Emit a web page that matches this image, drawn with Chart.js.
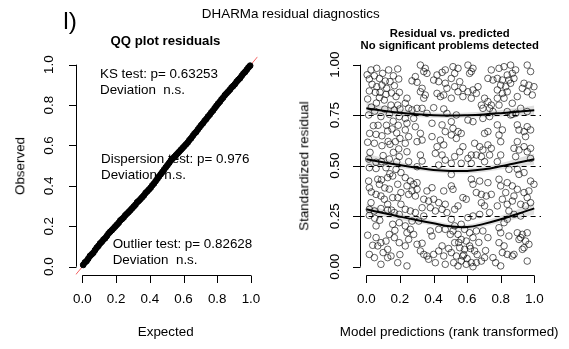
<!DOCTYPE html>
<html>
<head>
<meta charset="utf-8">
<script src="https://cdn.jsdelivr.net/npm/chart.js@4.4.0/dist/chart.umd.min.js"></script>
<style>
  body { margin: 0; background: #fff; }
  #wrap { position: relative; width: 569px; height: 349px; overflow: hidden;
          font-family: "Liberation Sans", Arial, sans-serif; color: #000; }
  canvas { position: absolute; top: 0; }
  .c { position: absolute; white-space: pre; line-height: 1; transform: translate(-50%, -50%); }
  .l { position: absolute; white-space: pre; line-height: 1; transform: translate(0, -50%); font-size: 13.4px; }
  .v { position: absolute; white-space: pre; line-height: 1; transform: translate(-50%, -50%) rotate(-90deg); font-size: 13.4px; }
</style>
</head>
<body>
<div id="wrap">
  <canvas id="qq" width="290" height="349" style="left:0;width:290px;height:349px"></canvas>
  <canvas id="res" width="279" height="349" style="left:290px;width:279px;height:349px"></canvas>

  <div class="c" style="left:70px;top:20.5px;font-size:24.5px">l)</div>
  <div class="c" style="left:290.8px;top:14px;font-size:13.4px">DHARMa residual diagnostics</div>

  <div class="c" style="left:165.5px;top:40.7px;font-size:13.2px;font-weight:bold">QQ plot residuals</div>
  <div class="l" style="left:100px;top:73.8px">KS test: p= 0.63253</div>
  <div class="l" style="left:100px;top:90px">Deviation  n.s.</div>
  <div class="l" style="left:101px;top:158.8px">Dispersion test: p= 0.976</div>
  <div class="l" style="left:101px;top:174.7px">Deviation  n.s.</div>
  <div class="l" style="left:112.7px;top:243.8px">Outlier test: p= 0.82628</div>
  <div class="l" style="left:112.7px;top:259.7px">Deviation  n.s.</div>
  <div class="c" style="left:165.7px;top:331.5px;font-size:13.4px">Expected</div>
  <div class="v" style="left:20px;top:165.7px">Observed</div>

  <div class="c" style="left:449.7px;top:34.3px;font-size:11.3px;font-weight:bold">Residual vs. predicted</div>
  <div class="c" style="left:449.7px;top:46.3px;font-size:11.3px;font-weight:bold">No significant problems detected</div>
  <div class="c" style="left:449.2px;top:331.5px;font-size:13.4px">Model predictions (rank transformed)</div>
  <div class="v" style="left:304px;top:165.7px">Standardized residual</div>
</div>

<script>
// QQ plot: expected uniform quantiles vs observed scaled residuals
const expectedQ = [
  0.005,0.015,0.025,0.035,0.045,0.055,0.065,0.075,0.085,0.095,
  0.105,0.115,0.125,0.135,0.145,0.155,0.165,0.175,0.185,0.195,
  0.205,0.215,0.225,0.235,0.245,0.255,0.265,0.275,0.285,0.295,
  0.305,0.315,0.325,0.335,0.345,0.355,0.365,0.375,0.385,0.395,
  0.405,0.415,0.425,0.435,0.445,0.455,0.465,0.475,0.485,0.495,
  0.505,0.515,0.525,0.535,0.545,0.555,0.565,0.575,0.585,0.595,
  0.605,0.615,0.625,0.635,0.645,0.655,0.665,0.675,0.685,0.695,
  0.705,0.715,0.725,0.735,0.745,0.755,0.765,0.775,0.785,0.795,
  0.805,0.815,0.825,0.835,0.845,0.855,0.865,0.875,0.885,0.895,
  0.905,0.915,0.925,0.935,0.945,0.955,0.965,0.975,0.985,0.995
];
const observedQ = [
  0.009,0.021,0.028,0.040,0.053,0.061,0.069,0.082,0.094,0.103,
  0.115,0.123,0.134,0.141,0.152,0.164,0.173,0.181,0.190,0.199,
  0.208,0.217,0.229,0.236,0.244,0.255,0.263,0.271,0.280,0.289,
  0.298,0.307,0.319,0.326,0.335,0.344,0.353,0.365,0.373,0.382,
  0.391,0.403,0.412,0.424,0.435,0.447,0.458,0.469,0.481,0.492,
  0.503,0.514,0.526,0.535,0.543,0.552,0.561,0.570,0.579,0.588,
  0.597,0.606,0.615,0.627,0.636,0.648,0.659,0.667,0.679,0.690,
  0.701,0.710,0.722,0.731,0.743,0.752,0.764,0.773,0.785,0.796,
  0.807,0.816,0.828,0.837,0.849,0.858,0.867,0.876,0.887,0.895,
  0.904,0.916,0.925,0.933,0.945,0.956,0.964,0.975,0.986,0.995
];

// residual vs predicted: [rank-transformed prediction, scaled residual]
const residualPts = [
  [0.028,0.974],[0.062,0.982],[0.097,0.957],[0.133,0.974],[0.187,0.979],[0.161,0.945],[0.193,0.929],[0.018,0.929],
  [0.048,0.945],[0.078,0.932],[0.113,0.919],[0.141,0.916],[0.034,0.903],[0.062,0.891],[0.093,0.899],[0.121,0.883],
  [0.167,0.896],[0.018,0.870],[0.054,0.863],[0.082,0.863],[0.117,0.853],[0.008,0.830],[0.078,0.837],[0.107,0.825],
  [0.177,0.842],[0.197,0.863],[0.147,0.800],[0.187,0.800],[0.200,0.781],[0.014,0.751],[0.087,0.743],[0.137,0.754],
  [0.167,0.776],[0.196,0.743],[0.042,0.698],[0.058,0.655],[0.093,0.648],[0.127,0.672],[0.153,0.682],[0.181,0.662],
  [0.200,0.635],[0.008,0.616],[0.048,0.611],[0.093,0.599],[0.141,0.606],[0.173,0.619],[0.193,0.583],[0.022,0.566],
  [0.161,0.566],[0.196,0.545],[0.014,0.533],[0.058,0.517],[0.137,0.533],[0.181,0.520],[0.030,0.790],[0.050,0.770],
  [0.110,0.780],[0.120,0.700],[0.070,0.700],[0.020,0.660],[0.100,0.550],[0.160,0.720],[0.190,0.700],[0.005,0.950],
  [0.150,0.860],[0.060,0.810],[0.130,0.620],[0.090,0.520],
  [0.018,0.490],[0.058,0.486],[0.117,0.490],[0.177,0.482],[0.206,0.466],[0.014,0.424],[0.068,0.433],[0.078,0.408],
  [0.127,0.441],[0.157,0.449],[0.187,0.408],[0.137,0.384],[0.206,0.367],[0.018,0.391],[0.058,0.358],[0.087,0.350],
  [0.107,0.334],[0.157,0.342],[0.187,0.342],[0.028,0.317],[0.127,0.309],[0.206,0.309],[0.018,0.284],[0.048,0.276],
  [0.087,0.288],[0.127,0.281],[0.167,0.268],[0.196,0.259],[0.018,0.254],[0.058,0.202],[0.157,0.210],[0.196,0.218],
  [0.008,0.156],[0.058,0.144],[0.087,0.119],[0.038,0.106],[0.068,0.103],[0.117,0.127],[0.137,0.160],[0.167,0.144],
  [0.196,0.119],[0.127,0.086],[0.018,0.061],[0.048,0.045],[0.087,0.012],[0.127,0.045],[0.147,0.053],[0.187,0.020],
  [0.090,0.430],[0.030,0.370],[0.110,0.390],[0.150,0.280],[0.080,0.230],[0.170,0.180],[0.100,0.070],[0.050,0.240],
  [0.200,0.060],[0.140,0.460],
  [0.322,0.998],[0.351,0.982],[0.342,0.966],[0.361,0.957],[0.292,0.941],[0.272,0.920],[0.302,0.913],[0.421,0.949],
  [0.451,0.962],[0.470,0.974],[0.401,0.924],[0.431,0.916],[0.470,0.908],[0.480,0.883],[0.332,0.883],[0.322,0.866],
  [0.351,0.850],[0.342,0.834],[0.242,0.834],[0.232,0.809],[0.421,0.858],[0.441,0.842],[0.461,0.850],[0.252,0.784],
  [0.302,0.784],[0.272,0.776],[0.332,0.784],[0.361,0.759],[0.401,0.787],[0.461,0.781],[0.480,0.759],[0.232,0.734],
  [0.282,0.734],[0.242,0.710],[0.292,0.693],[0.322,0.660],[0.232,0.677],[0.252,0.644],[0.391,0.710],[0.451,0.702],
  [0.470,0.669],[0.302,0.619],[0.332,0.627],[0.391,0.644],[0.441,0.627],[0.232,0.611],[0.242,0.569],[0.421,0.594],
  [0.461,0.603],[0.411,0.561],[0.451,0.553],[0.322,0.553],[0.470,0.528],[0.332,0.523],[0.252,0.520],[0.302,0.495],
  [0.431,0.503],
  [0.232,0.441],[0.262,0.424],[0.242,0.400],[0.282,0.408],[0.302,0.416],[0.302,0.383],[0.272,0.375],[0.252,0.358],
  [0.292,0.350],[0.361,0.375],[0.391,0.391],[0.461,0.375],[0.342,0.334],[0.371,0.325],[0.401,0.334],[0.431,0.317],
  [0.470,0.309],[0.332,0.292],[0.381,0.292],[0.411,0.276],[0.451,0.284],[0.480,0.268],[0.232,0.284],[0.262,0.276],
  [0.292,0.268],[0.342,0.251],[0.272,0.226],[0.312,0.226],[0.232,0.202],[0.262,0.185],[0.242,0.168],[0.282,0.160],
  [0.252,0.135],[0.232,0.103],[0.381,0.177],[0.391,0.152],[0.302,0.111],[0.332,0.116],[0.431,0.185],[0.470,0.185],
  [0.322,0.078],[0.342,0.061],[0.361,0.053],[0.371,0.037],[0.401,0.061],[0.431,0.078],[0.461,0.053],[0.411,0.020],
  [0.470,0.012],[0.451,0.103],[0.242,0.004],
  [0.516,0.990],[0.546,0.982],[0.526,0.957],[0.506,0.932],[0.605,0.998],[0.635,0.982],[0.615,0.957],[0.625,0.966],
  [0.744,0.974],[0.724,0.932],[0.754,0.924],[0.556,0.916],[0.526,0.891],[0.575,0.883],[0.546,0.866],[0.575,0.842],
  [0.506,0.834],[0.635,0.875],[0.605,0.866],[0.665,0.891],[0.655,0.858],[0.625,0.834],[0.704,0.834],[0.724,0.817],
  [0.744,0.800],[0.685,0.800],[0.694,0.784],[0.734,0.784],[0.754,0.768],[0.506,0.718],[0.536,0.751],[0.605,0.726],
  [0.635,0.718],[0.694,0.734],[0.734,0.743],[0.516,0.685],[0.546,0.669],[0.506,0.652],[0.565,0.660],[0.536,0.635],
  [0.704,0.660],[0.724,0.669],[0.575,0.594],[0.556,0.569],[0.526,0.545],[0.645,0.611],[0.675,0.594],[0.694,0.578],
  [0.724,0.603],[0.744,0.586],[0.625,0.553],[0.605,0.536],[0.655,0.553],[0.685,0.545],[0.734,0.553],[0.506,0.512],
  [0.565,0.512],[0.625,0.512],[0.704,0.520],
  [0.506,0.457],[0.625,0.433],[0.675,0.424],[0.635,0.408],[0.724,0.416],[0.506,0.400],[0.516,0.383],[0.575,0.342],
  [0.595,0.334],[0.655,0.367],[0.685,0.358],[0.714,0.350],[0.744,0.358],[0.685,0.317],[0.704,0.301],[0.546,0.301],
  [0.526,0.284],[0.734,0.268],[0.675,0.259],[0.635,0.251],[0.605,0.243],[0.506,0.235],[0.526,0.202],[0.565,0.210],
  [0.585,0.185],[0.516,0.177],[0.546,0.160],[0.615,0.168],[0.655,0.177],[0.694,0.177],[0.724,0.144],[0.635,0.144],
  [0.565,0.135],[0.595,0.127],[0.526,0.119],[0.556,0.094],[0.585,0.086],[0.615,0.103],[0.645,0.078],[0.506,0.070],
  [0.536,0.053],[0.575,0.053],[0.565,0.028],[0.595,0.012],[0.625,0.020],[0.655,0.020],[0.685,0.028],[0.704,0.045],
  [0.754,0.045],[0.546,0.004],[0.635,0.000],[0.490,0.090],[0.520,0.020],[0.580,0.060],[0.600,0.040],[0.660,0.060],
  [0.620,0.090],[0.550,0.120],[0.500,0.160],[0.670,0.120],[0.710,0.080],[0.770,0.020],
  [0.790,0.982],[0.820,0.990],[0.859,0.998],[0.889,0.974],[0.958,0.998],[0.978,0.966],[0.839,0.949],[0.869,0.957],
  [0.780,0.932],[0.810,0.924],[0.849,0.924],[0.879,0.932],[0.800,0.899],[0.830,0.891],[0.859,0.908],[0.939,0.908],
  [0.968,0.899],[0.998,0.891],[0.929,0.883],[0.780,0.875],[0.810,0.858],[0.839,0.866],[0.958,0.866],[0.988,0.850],
  [0.780,0.834],[0.820,0.834],[0.899,0.842],[0.869,0.809],[0.790,0.800],[0.839,0.768],[0.859,0.751],[0.869,0.754],
  [0.889,0.759],[0.919,0.784],[0.958,0.768],[0.780,0.702],[0.810,0.677],[0.790,0.652],[0.899,0.702],[0.909,0.677],
  [0.939,0.669],[0.958,0.693],[0.978,0.677],[0.948,0.644],[0.800,0.619],[0.899,0.619],[0.879,0.586],[0.909,0.578],
  [0.939,0.594],[0.958,0.569],[0.978,0.586],[0.800,0.553],[0.889,0.545],[0.978,0.536],[0.780,0.520],
  [0.849,0.482],[0.899,0.482],[0.909,0.457],[0.939,0.466],[0.978,0.424],[0.998,0.408],[0.790,0.433],[0.800,0.400],
  [0.839,0.416],[0.869,0.400],[0.899,0.383],[0.830,0.367],[0.879,0.350],[0.939,0.367],[0.958,0.342],[0.968,0.375],
  [0.810,0.334],[0.780,0.301],[0.839,0.309],[0.869,0.325],[0.919,0.309],[0.948,0.301],[0.978,0.317],[0.849,0.276],
  [0.879,0.259],[0.919,0.251],[0.839,0.235],[0.820,0.218],[0.790,0.193],[0.800,0.168],[0.849,0.152],[0.899,0.168],
  [0.929,0.160],[0.958,0.168],[0.919,0.144],[0.948,0.127],[0.968,0.111],[0.939,0.094],[0.790,0.119],[0.820,0.103],
  [0.810,0.070],[0.839,0.061],[0.869,0.053],[0.879,0.061],[0.958,0.028],[0.800,0.004],[0.909,0.135],[0.929,0.086]
];

// quantile regression fits (0.25 / 0.5 / 0.75) with their confidence bands
const qX    = [0, 0.1, 0.2, 0.3, 0.4, 0.5, 0.6, 0.7, 0.8, 0.9, 1.0];
const q25   = [0.284,0.266,0.248,0.231,0.215,0.200,0.196,0.212,0.235,0.261,0.289];
const q25Lo = [0.258,0.247,0.233,0.218,0.203,0.189,0.185,0.199,0.219,0.238,0.258];
const q25Hi = [0.312,0.285,0.263,0.245,0.228,0.213,0.209,0.226,0.252,0.283,0.318];
const q50   = [0.532,0.517,0.503,0.490,0.479,0.474,0.474,0.482,0.497,0.515,0.532];
const q50Lo = [0.505,0.497,0.488,0.478,0.468,0.462,0.462,0.469,0.481,0.494,0.505];
const q50Hi = [0.560,0.538,0.518,0.503,0.491,0.486,0.487,0.496,0.513,0.536,0.560];
const q75   = [0.784,0.772,0.762,0.755,0.750,0.748,0.750,0.754,0.760,0.767,0.774];
const q75Lo = [0.755,0.750,0.745,0.740,0.737,0.736,0.737,0.740,0.744,0.748,0.750];
const q75Hi = [0.812,0.795,0.779,0.770,0.763,0.760,0.763,0.768,0.776,0.786,0.798];
const refLines = [0.25, 0.5, 0.75];

const qqTicks  = ['0.0', '0.2', '0.4', '0.6', '0.8', '1.0'];
const resXTicks = ['0.0', '0.2', '0.4', '0.6', '0.8', '1.0'];
const resYTicks = ['0.00', '0.25', '0.50', '0.75', '1.00'];

const FONT = '13.4px "Liberation Sans", Arial, sans-serif';

// base-graphics style axes: line only over the tick range, outward ticks, rotated y labels
const rAxes = {
  id: 'rAxes',
  beforeDatasetsDraw(chart, args, o) {
    const { ctx, chartArea: a, scales: { x, y } } = chart;
    ctx.save();
    ctx.beginPath();
    ctx.rect(a.left, a.top, a.right - a.left, a.bottom - a.top);
    ctx.clip();
    if (o.identity) {
      ctx.strokeStyle = 'rgba(240,60,60,0.8)';
      ctx.lineWidth = 1;
      ctx.beginPath();
      ctx.moveTo(x.getPixelForValue(x.min), y.getPixelForValue(x.min));
      ctx.lineTo(x.getPixelForValue(x.max), y.getPixelForValue(x.max));
      ctx.stroke();
    }
    (o.hLines || []).forEach(v => {
      const py = Math.round(y.getPixelForValue(v)) + 0.5;
      ctx.strokeStyle = '#000';
      ctx.lineWidth = 1;
      ctx.setLineDash([5, 4]);
      ctx.beginPath();
      ctx.moveTo(a.left, py);
      ctx.lineTo(a.right, py);
      ctx.stroke();
    });
    ctx.restore();
  },
  afterDraw(chart, args, o) {
    const { ctx, chartArea: a, scales: { x, y } } = chart;
    const xv = o.xTicks.map(Number), yv = o.yTicks.map(Number);
    ctx.save();
    ctx.strokeStyle = '#000';
    ctx.fillStyle = '#000';
    ctx.lineWidth = 1;
    ctx.font = FONT;
    ctx.textAlign = 'center';
    ctx.textBaseline = 'middle';
    const by = Math.round(a.bottom) + 0.5;
    ctx.beginPath();
    ctx.moveTo(x.getPixelForValue(xv[0]), by);
    ctx.lineTo(x.getPixelForValue(xv[xv.length - 1]), by);
    xv.forEach(v => {
      const px = Math.round(x.getPixelForValue(v)) + 0.5;
      ctx.moveTo(px, by);
      ctx.lineTo(px, by + 7.5);
    });
    const lx = Math.round(a.left) + 0.5;
    ctx.moveTo(lx, y.getPixelForValue(yv[0]));
    ctx.lineTo(lx, y.getPixelForValue(yv[yv.length - 1]));
    yv.forEach(v => {
      const py = Math.round(y.getPixelForValue(v)) + 0.5;
      ctx.moveTo(lx, py);
      ctx.lineTo(lx - 7.5, py);
    });
    ctx.stroke();
    o.xTicks.forEach((t, i) => ctx.fillText(t, x.getPixelForValue(xv[i]), a.bottom + 25));
    o.yTicks.forEach((t, i) => {
      ctx.save();
      ctx.translate(a.left - o.yLabelGap, y.getPixelForValue(yv[i]));
      ctx.rotate(-Math.PI / 2);
      ctx.fillText(t, 0, 0);
      ctx.restore();
    });
    ctx.restore();
  }
};

const hiddenScales = {
  x: { type: 'linear', min: -0.04, max: 1.04, display: false },
  y: { type: 'linear', min: -0.04, max: 1.04, display: false }
};

new Chart(document.getElementById('qq'), {
  type: 'scatter',
  data: {
    datasets: [{
      data: expectedQ.map((e, i) => ({ x: e, y: observedQ[i] })),
      pointRadius: 2.9,
      pointBorderWidth: 1,
      pointBorderColor: '#000',
      pointBackgroundColor: '#000'
    }]
  },
  options: {
    responsive: false, animation: false, devicePixelRatio: 1, events: [],
    layout: { padding: { left: 75.6, right: 32.3, top: 56.6, bottom: 74.2 } },
    scales: hiddenScales,
    plugins: {
      legend: { display: false }, tooltip: { enabled: false },
      rAxes: { identity: true, xTicks: qqTicks, yTicks: qqTicks, yLabelGap: 26 }
    }
  },
  plugins: [rAxes]
});

const band = (lo, hi) => [
  { type: 'line', data: qX.map((v, i) => ({ x: v, y: lo[i] })), borderWidth: 0, pointRadius: 0,
    tension: 0.4, fill: false, order: 2 },
  { type: 'line', data: qX.map((v, i) => ({ x: v, y: hi[i] })), borderWidth: 0, pointRadius: 0,
    tension: 0.4, fill: '-1', backgroundColor: 'rgba(0,0,0,0.12)', order: 2 }
];
const fit = q => ({
  type: 'line', data: qX.map((v, i) => ({ x: v, y: q[i] })), borderColor: '#000', borderWidth: 2,
  pointRadius: 0, tension: 0.4, fill: false, order: 1
});

new Chart(document.getElementById('res'), {
  type: 'scatter',
  data: {
    datasets: [
      {
        data: residualPts.map(p => ({ x: p[0], y: p[1] })),
        pointRadius: 3.3,
        pointBorderWidth: 1,
        pointBorderColor: 'rgba(0,0,0,0.62)',
        pointBackgroundColor: 'rgba(0,0,0,0)',
        order: 3
      },
      ...band(q25Lo, q25Hi), ...band(q50Lo, q50Hi), ...band(q75Lo, q75Hi),
      fit(q25), fit(q50), fit(q75)
    ]
  },
  options: {
    responsive: false, animation: false, devicePixelRatio: 1, events: [],
    layout: { padding: { left: 69.6, right: 28, top: 56.6, bottom: 74.2 } },
    scales: hiddenScales,
    plugins: {
      legend: { display: false }, tooltip: { enabled: false },
      rAxes: { hLines: refLines, xTicks: resXTicks, yTicks: resYTicks, yLabelGap: 24.5 }
    }
  },
  plugins: [rAxes]
});
</script>
</body>
</html>
